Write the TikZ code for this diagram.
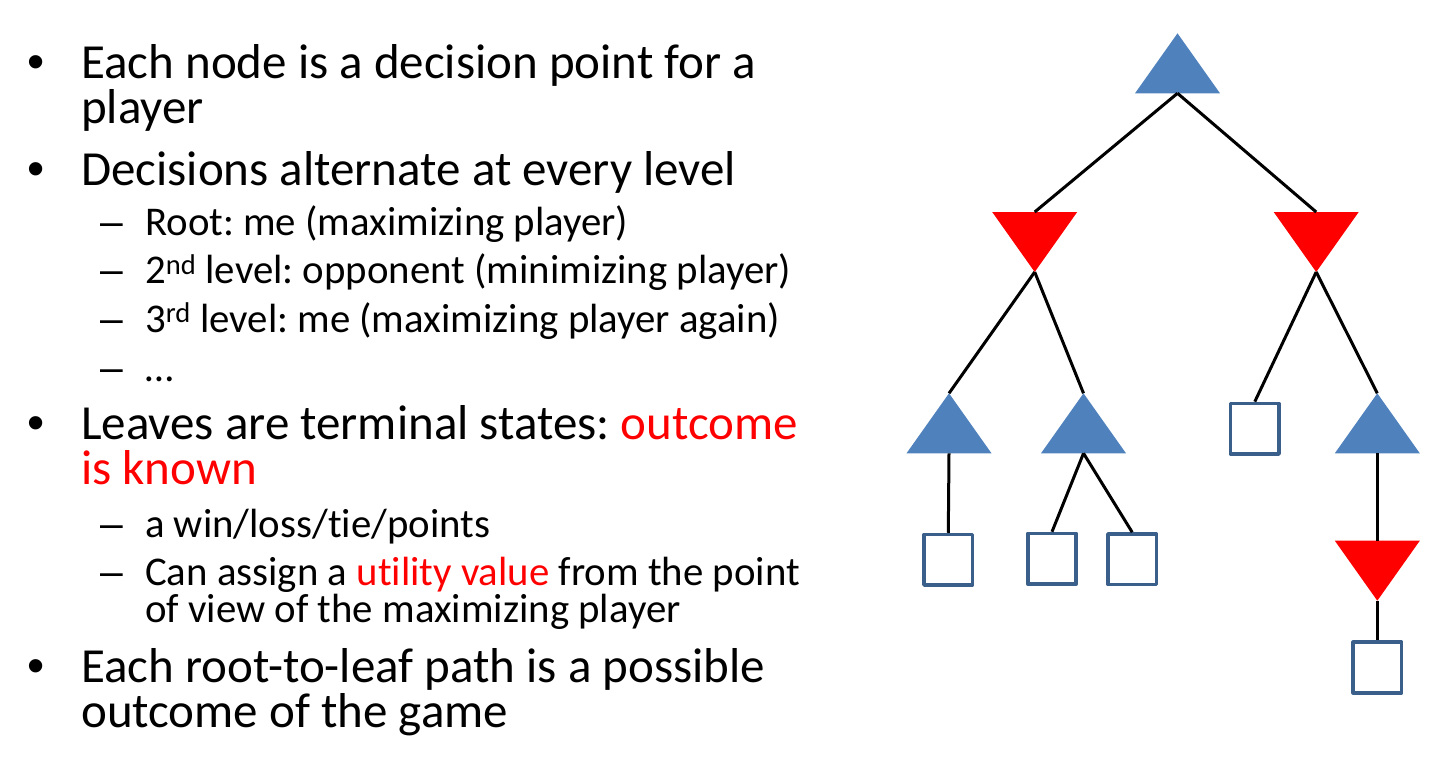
\documentclass[tikz,border=0pt]{standalone}
\usepackage{fontspec}
\setmainfont{Carlito}[Ligatures=NoCommon]
\newfontfamily\markfont{Liberation Sans}
\usetikzlibrary{calc}

\definecolor{maxblue}{HTML}{4F81BD}
\definecolor{minred}{HTML}{FF0000}
\definecolor{leafedge}{HTML}{3A5F8B}

\newcommand\mainsize{\fontsize{49}{50}\selectfont}
\newcommand\subsize{\fontsize{40.8}{42}\selectfont}
\newcommand\hot[1]{\textcolor{minred}{#1}}
\frenchspacing

\tikzset{
  maintext/.style={anchor=base west, inner sep=0pt, font=\mainsize},
  subtext/.style={anchor=base west, inner sep=0pt, font=\subsize},
  bulletmark/.style={anchor=base west, inner sep=0pt, font=\markfont\mainsize},
  dashmark/.style={anchor=base west, inner sep=0pt, font=\markfont\subsize},
  treeedge/.style={line width=3pt, black},
  leaf/.style={draw=leafedge, fill=white, line width=3.6pt, line join=round,
    minimum width=48.5pt, minimum height=50.5pt, inner sep=0pt},
  maxnode/.pic={
    \fill[maxblue] (-42.5,30) -- (0,-30) -- (42.5,30) -- cycle;
    \coordinate (-top) at (0,-30);
    \coordinate (-bot) at (0,30);
  },
  minnode/.pic={
    \fill[minred] (-42.5,-30) -- (42.5,-30) -- (0,30) -- cycle;
    \coordinate (-top) at (0,-30);
    \coordinate (-bot) at (0,30);
  },
}

\begin{document}
\begin{tikzpicture}[x=1pt,y=-1pt]
\useasboundingbox (0,0) rectangle (1440,766);

% ---- bullet list ----
\node[bulletmark] (b1) at (27.5,78) {•};
\node[maintext] (t1) at (81,78) {Each node is a decision point for a};
\node[maintext] (t1b) at (81,123) {player};

\node[bulletmark] (b2) at (27.5,185) {•};
\node[maintext] (t2) at (81,185) {Decisions alternate at every level};

\node[dashmark] (d1) at (100,235) {–};
\node[subtext] (s1) at (145,235) {Root: me (maximizing player)};
\node[dashmark] (d2) at (100,283.5) {–};
\node[subtext] (s2) at (145,283.5) {2\textsuperscript{nd} level: opponent (minimizing player)};
\node[dashmark] (d3) at (100,332) {–};
\node[subtext] (s3) at (145,332) {3\textsuperscript{rd} level: me (maximizing player again)};
\node[dashmark] (d4) at (100,381) {–};
\node[subtext] (s4) at (145,381) {…};

\node[bulletmark] (b3) at (27.5,439) {•};
\node[maintext] (t3) at (81,439) {Leaves are terminal states: \hot{outcome}};
\node[maintext] (t3b) at (81,484) {\hot{is known}};

\node[dashmark] (d5) at (100,537) {–};
\node[subtext] (s5) at (145,537) {a win/loss/tie/points};
\node[dashmark] (d6) at (100,585) {–};
\node[subtext] (s6) at (145,585) {Can assign a \hot{utility value} from the point};
\node[subtext] (s6b) at (145,622) {of view of the maximizing player};

\node[bulletmark] (b4) at (27.5,682) {•};
\node[maintext] (t4) at (81,682) {Each root-to-leaf path is a possible};
\node[maintext] (t4b) at (81,727) {outcome of the game};

% ---- game tree ----
\pic (root) at (1177.5,63.3) {maxnode};
\pic (mL) at (1034.7,242) {minnode};
\pic (mR) at (1316.2,242) {minnode};
\pic (xA) at (949,423.3) {maxnode};
\pic (xB) at (1083.5,423.3) {maxnode};
\pic (xC) at (1377.3,423.3) {maxnode};
\pic (mC) at (1377.3,570.7) {minnode};

\node[leaf] (lA) at (1254.8,428.7) {};
\node[leaf] (l1) at (948.3,559.8) {};
\node[leaf] (l2) at (1052,558.8) {};
\node[leaf] (l3) at (1132.2,559.3) {};
\node[leaf] (l4) at (1377.3,667.5) {};

\draw[treeedge] (root-bot) -- (mL-top);
\draw[treeedge] (root-bot) -- (mR-top);
\draw[treeedge] (mL-bot) -- (xA-top);
\draw[treeedge] (mL-bot) -- (xB-top);
\draw[treeedge] (mR-bot) -- (lA.north);
\draw[treeedge] (mR-bot) -- (xC-top);
\draw[treeedge] (xA-bot) -- (l1.north);
\draw[treeedge] (xB-bot) -- (l2.north);
\draw[treeedge] (xB-bot) -- (l3.north);
\draw[treeedge] (xC-bot) -- (mC-top);
\draw[treeedge] (mC-bot) -- (l4.north);
\end{tikzpicture}
\end{document}
